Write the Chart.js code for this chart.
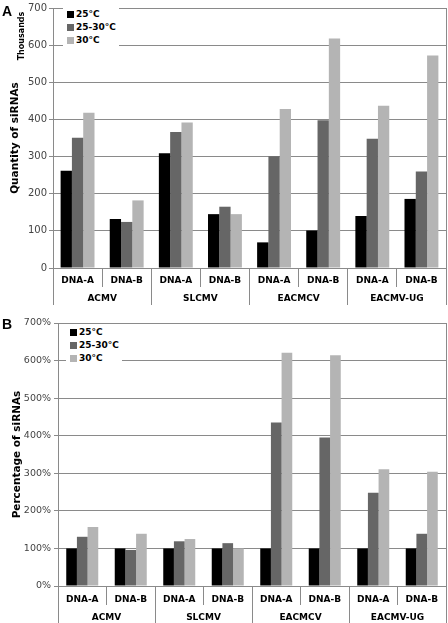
<!DOCTYPE html>
<html>
<head>
<meta charset="utf-8">
<script src="https://cdn.jsdelivr.net/npm/chart.js@4.4.0/dist/chart.umd.min.js"></script>
<style>
  html, body { margin: 0; padding: 0; background: #fff; }
  body { width: 448px; height: 623px; position: relative; overflow: hidden; font-family: 'DejaVu Sans', sans-serif; }
  .panel { position: absolute; left: 0; width: 448px; }
  #panelA { top: 0; height: 310px; }
  #panelB { top: 310px; height: 313px; }
  .tag { position: absolute; left: 2px; font: bold 14px 'Liberation Sans', Arial, sans-serif; line-height: 14px; color: #000; }
  .unit { position: absolute; width: 60px; text-align: center; font: bold 8px 'DejaVu Sans', sans-serif; line-height: 10px; transform: rotate(-90deg); color: #000; }
  .legend { position: absolute; background: #fff; font: bold 9px 'DejaVu Sans', sans-serif; color: #000; }
  .legend div { position: absolute; left: 4px; height: 10px; line-height: 10px; white-space: nowrap; }
  .legend span { display: inline-block; width: 7px; height: 7px; margin-right: 2px; vertical-align: -0.5px; }
</style>
</head>
<body>
<div class="panel" id="panelA"><canvas id="chartA"></canvas></div>
<div class="panel" id="panelB"><canvas id="chartB"></canvas></div>
<div class="tag" style="top:4px">A</div>
<div class="tag" style="top:317px">B</div>
<div class="unit" style="left:-8px; top:31px">Thousands</div>
<div class="legend" id="legendA" style="left:63px; top:7px; width:56px; height:39px"></div>
<div class="legend" id="legendB" style="left:66px; top:325px; width:56px; height:38px"></div>
<script>
// categories
const groups = ['ACMV', 'SLCMV', 'EACMCV', 'EACMV-UG'];
const segments = ['DNA-A', 'DNA-B', 'DNA-A', 'DNA-B', 'DNA-A', 'DNA-B', 'DNA-A', 'DNA-B'];
const seriesNames = ['25°C', '25-30°C', '30°C'];
const seriesColors = ['#000000', '#666666', '#b4b4b4'];

// panel A: quantity of siRNAs (thousands)
const qty25 = [262, 132, 309, 145, 69, 101, 140, 186];
const qty2530 = [351, 124, 366, 165, 301, 398, 348, 260];
const qty30 = [418, 182, 392, 145, 428, 618, 437, 572];
const qtyTicks = [0, 100, 200, 300, 400, 500, 600, 700];

// panel B: percentage of siRNAs
const pct25 = [100, 100, 100, 100, 100, 100, 100, 100];
const pct2530 = [131, 96, 119, 114, 435, 395, 248, 139];
const pct30 = [157, 139, 125, 100, 621, 614, 311, 304];
const pctTicks = [0, 100, 200, 300, 400, 500, 600, 700];

const lineColor = '#8a8a8a';
const tickColor = '#444444';
const fontFamily = "'DejaVu Sans', sans-serif";

function buildLegend(id, rowTops) {
    const box = document.getElementById(id);
    seriesNames.forEach(function(name, i) {
        const row = document.createElement('div');
        row.style.top = rowTops[i] + 'px';
        row.innerHTML = '<span style="background:' + seriesColors[i] + '"></span>' + name;
        box.appendChild(row);
    });
}

function makeChart(canvasId, series, ticks, opts) {
    const ctx = document.getElementById(canvasId).getContext('2d');
    const catFont = { family: fontFamily, size: 9, weight: 'bold' };
    return new Chart(ctx, {
        type: 'bar',
        data: {
            labels: segments,
            datasets: series.map(function(values, i) {
                return {
                    label: seriesNames[i],
                    data: values,
                    backgroundColor: seriesColors[i],
                    borderWidth: 0,
                    barPercentage: 1,
                    categoryPercentage: opts.catPct
                };
            })
        },
        options: {
            responsive: true,
            maintainAspectRatio: false,
            animation: false,
            layout: { padding: opts.padding },
            plugins: {
                legend: { display: false },
                tooltip: { enabled: false }
            },
            scales: {
                x: {
                    offset: true,
                    grid: { offset: true, drawOnChartArea: false, tickLength: 19, color: lineColor },
                    border: { color: lineColor },
                    ticks: { padding: opts.catPad, font: catFont, color: '#000', maxRotation: 0, autoSkip: false },
                    afterFit: function(s) { s.height = 19; }
                },
                x2: {
                    type: 'category',
                    labels: groups,
                    position: 'bottom',
                    weight: 1,
                    offset: true,
                    grid: { offset: true, drawOnChartArea: false, tickLength: 18, color: lineColor },
                    border: { display: false },
                    ticks: { padding: opts.catPad, font: catFont, color: '#000', maxRotation: 0, autoSkip: false },
                    afterFit: function(s) { s.height = 18; }
                },
                y: {
                    min: ticks[0],
                    max: ticks[ticks.length - 1],
                    afterBuildTicks: function(s) { s.ticks = ticks.map(function(v) { return { value: v }; }); },
                    grid: { color: lineColor, tickLength: 4 },
                    border: { color: lineColor },
                    ticks: {
                        padding: opts.tickPad,
                        color: tickColor,
                        font: { family: fontFamily, size: opts.tickSize },
                        callback: function(v) { return v + opts.suffix; }
                    },
                    title: {
                        display: true,
                        text: opts.title,
                        color: '#000',
                        font: { family: fontFamily, size: 10.5, weight: 'bold' },
                        padding: { top: opts.titlePad, bottom: 0 }
                    },
                    afterFit: function(s) { s.width = opts.axisWidth; }
                },
                yr: {
                    position: 'right',
                    ticks: { display: false },
                    grid: { drawOnChartArea: false, drawTicks: false },
                    border: { color: lineColor },
                    afterFit: function(s) { s.width = 0; }
                }
            }
        }
    });
}

makeChart('chartA', [qty25, qty2530, qty30], qtyTicks, {
    catPct: 0.69,
    catPad: -11.5,
    padding: { top: 6, right: 2, bottom: 5, left: 0 },
    tickPad: 2,
    tickSize: 10,
    suffix: '',
    title: 'Quantity of siRNAs',
    titlePad: 9,
    axisWidth: 53
});

makeChart('chartB', [pct25, pct2530, pct30], pctTicks, {
    catPct: 0.66,
    catPad: -10.5,
    padding: { top: 13, right: 2, bottom: 0, left: 0 },
    tickPad: 3,
    tickSize: 9.5,
    suffix: '%',
    title: 'Percentage of siRNAs',
    titlePad: 11,
    axisWidth: 58
});

buildLegend('legendA', [2, 15, 28]);
buildLegend('legendB', [2, 15, 28]);
</script>
</body>
</html>
